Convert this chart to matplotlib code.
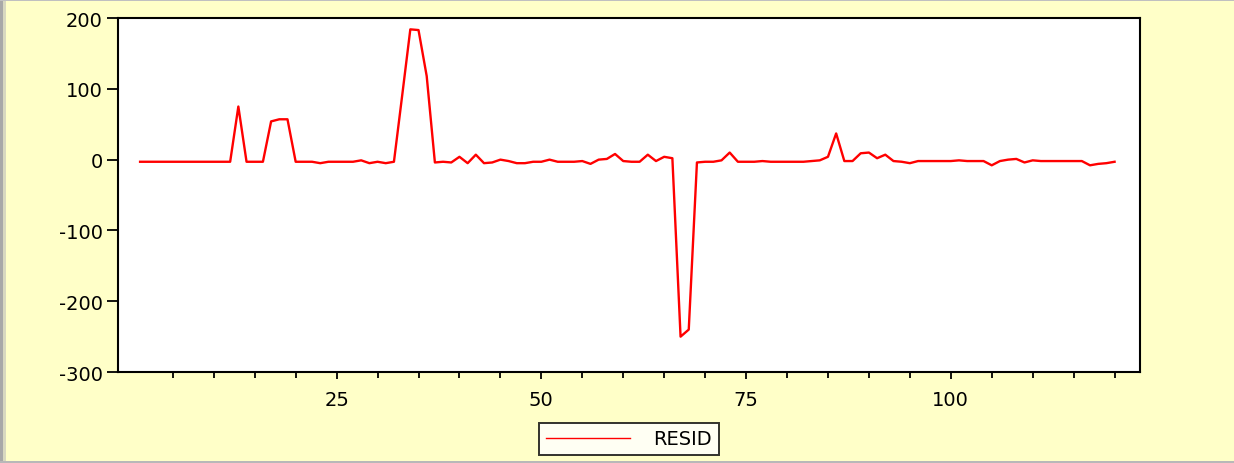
import matplotlib
matplotlib.use("Agg")
import matplotlib.pyplot as plt
import numpy as np
from matplotlib.patches import Rectangle
from matplotlib.ticker import FixedLocator

# Residuos por observacion (1..120)
obs = np.arange(1, 121)
resid = [
    -3, -3, -3, -3, -3, -3, -3, -3, -3, -3,
    -3, -3, 75, -3, -3, -3, 54, 57, 57, -3,
    -3, -3, -5, -3, -3, -3, -3, -1, -5, -3,
    -5, -3, 90, 184, 183, 118, -4, -3, -4, 4,
    -5, 7, -5, -4, 0, -2, -5, -5, -3, -3,
    0, -3, -3, -3, -2, -6, 0, 1, 8, -2,
    -3, -3, 7, -2, 4, 2, -250, -240, -4, -3,
    -3, -1, 10, -3, -3, -3, -2, -3, -3, -3,
    -3, -3, -2, -1, 4, 37, -2, -2, 9, 10,
    2, 7, -2, -3, -5, -2, -2, -2, -2, -2,
    -1, -2, -2, -2, -8, -2, 0, 1, -4, -1,
    -2, -2, -2, -2, -2, -2, -8, -6, -5, -3,
]

y_ticks = [-300, -200, -100, 0, 100, 200]
x_major = [25, 50, 75, 100]
x_minor = [v for v in range(5, 125, 5) if v % 25 != 0]

BG = "#FFFFC8"

plt.rcParams['font.family'] = ['DejaVu Sans']
plt.rcParams['axes.unicode_minus'] = False

fig = plt.figure(figsize=(12.34, 4.64), dpi=100, facecolor=BG)
ax = fig.add_axes([0.0956, 0.196, 0.8282, 0.763])
ax.set_facecolor("white")

ax.plot(obs, resid, color="#FF0000", linewidth=1.7, label="RESID")

ax.set_xlim(-1.7, 123.1)
ax.set_ylim(-300, 200)

ax.set_yticks(y_ticks)
ax.set_yticklabels([str(v) for v in y_ticks])
ax.xaxis.set_major_locator(FixedLocator(x_major))
ax.xaxis.set_minor_locator(FixedLocator(x_minor))
ax.set_xticklabels([str(v) for v in x_major])

ax.tick_params(axis="y", which="major", direction="out", length=8, width=1.3,
               pad=3, labelsize=14, colors="black")
ax.tick_params(axis="x", which="major", direction="out", length=5, width=1.3,
               pad=8, labelsize=14, colors="black")
ax.tick_params(axis="x", which="minor", direction="out", length=4, width=1.3)

for side in ["left", "right", "top", "bottom"]:
    ax.spines[side].set_linewidth(1.5)
    ax.spines[side].set_color("black")

# Leyenda centrada bajo el grafico
leg = fig.legend(loc="center", bbox_to_anchor=(629 / 1234, 0.052),
                 fontsize=14, frameon=True, fancybox=False,
                 handlelength=4.3, handletextpad=1.2, borderpad=0.35)
leg.get_frame().set_edgecolor("black")
leg.get_frame().set_linewidth(1.4)
leg.get_frame().set_facecolor("white")
leg.get_lines()[0].set_linewidth(1.0)

# Bordes grises de la ventana
fig.patches.append(Rectangle((0, 0), 0.0025, 1, transform=fig.transFigure,
                             facecolor="#A8A8A8", edgecolor="none", zorder=-1))
fig.patches.append(Rectangle((0.0025, 0), 0.0025, 1, transform=fig.transFigure,
                             facecolor="#D8D8C0", edgecolor="none", zorder=-1))
fig.patches.append(Rectangle((0, 0.996), 1, 0.004, transform=fig.transFigure,
                             facecolor="#C0C0C0", edgecolor="none", zorder=-1))
fig.patches.append(Rectangle((0, 0), 1, 0.005, transform=fig.transFigure,
                             facecolor="#B8B8B8", edgecolor="none", zorder=-1))

fig.savefig("out.png", dpi=100, facecolor=BG)
plt.close(fig)
